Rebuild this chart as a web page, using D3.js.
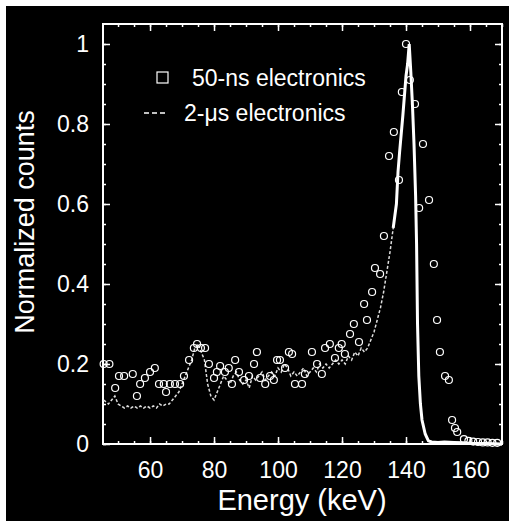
<!DOCTYPE html>
<html>
<head>
<meta charset="utf-8">
<script src="https://cdn.jsdelivr.net/npm/d3@7"></script>
<style>
  body { margin: 0; background: #fff; }
  text { font-family: "Liberation Sans", Arial, sans-serif; fill: #fff; }
</style>
</head>
<body>
<svg id="chart"></svg>
<script>
// 50-ns electronics (open markers)
const energy50 = [45.5, 47.3, 49.1, 50.3, 51.9, 54.6, 55.9, 56.9, 58.4, 60.0, 61.5, 62.8, 64.3, 65.0,
  66.2, 67.8, 69.4, 70.6, 72.2, 73.7, 74.7, 75.9, 77.2, 78.4, 80.0, 80.9, 81.9, 83.4, 84.6, 85.6,
  86.6, 87.8, 89.4, 90.9, 92.5, 93.4, 94.4, 96.0, 97.5, 98.7, 99.7, 100.6, 102.2, 103.4, 104.4,
  105.3, 107.5, 108.4, 110.6, 112.2, 113.7, 114.7, 116.2, 117.8, 119.0, 119.9, 120.9, 122.5, 123.7,
  125.3, 126.9, 127.8, 129.4, 130.3, 131.9, 133.1, 134.7, 136.2, 137.8, 138.7, 140.0, 141.2, 142.8,
  144.1, 145.3, 147.2, 148.7, 149.7, 150.6, 152.2, 153.4, 154.4, 155.3, 156.0, 158.1, 159.5, 161,
  162.5, 164, 165.5, 167, 168.5];
const counts50 = [0.2, 0.2, 0.14, 0.17, 0.17, 0.175, 0.12, 0.15, 0.165, 0.18, 0.19, 0.15, 0.15, 0.13,
  0.15, 0.15, 0.15, 0.17, 0.21, 0.24, 0.25, 0.24, 0.24, 0.2, 0.165, 0.18, 0.195, 0.18, 0.19, 0.15,
  0.21, 0.18, 0.16, 0.17, 0.2, 0.23, 0.165, 0.15, 0.17, 0.16, 0.21, 0.21, 0.19, 0.23, 0.225,
  0.15, 0.15, 0.175, 0.23, 0.2, 0.175, 0.24, 0.25, 0.215, 0.24, 0.25, 0.225, 0.275, 0.3,
  0.255, 0.35, 0.31, 0.38, 0.44, 0.425, 0.52, 0.72, 0.78, 0.66, 0.88, 1.0, 0.91, 0.85,
  0.59, 0.75, 0.61, 0.45, 0.31, 0.23, 0.17, 0.16, 0.06, 0.04, 0.03, 0.012, 0.008, 0.006,
  0.005, 0.004, 0.004, 0.003, 0.003];

// 2-us electronics (dashed line)
const energy2 = [45.5, 47, 48, 49, 50, 51, 52, 53, 54, 55, 56, 57, 58, 59, 60, 61, 62, 63, 64, 65,
  66, 67, 68, 69, 70, 71, 72, 73, 74, 75, 76, 77, 78, 79, 80, 81, 82, 83, 84, 85, 86, 87, 88, 89,
  90, 91, 92, 93, 94, 95, 96, 97, 98, 99, 100, 101, 102, 103, 104, 105, 106, 107, 108, 109, 110,
  111, 112, 113, 114, 115, 116, 117, 118, 119, 120, 121, 122, 123, 124, 125, 126, 127, 128, 129,
  130, 131, 132, 133, 134, 135, 136, 137, 137.5, 138, 139, 140, 140.5, 141, 141.5, 142, 142.5,
  143, 143.3, 143.6, 144, 144.5, 145, 146, 147, 148, 150, 152, 155, 158, 160, 165, 170];
const counts2 = [0.11, 0.1, 0.11, 0.12, 0.1, 0.095, 0.09, 0.095, 0.09, 0.095, 0.09, 0.095, 0.09, 0.095,
  0.09, 0.095, 0.09, 0.1, 0.095, 0.1, 0.1, 0.11, 0.12, 0.13, 0.15, 0.17, 0.19, 0.21, 0.24, 0.25,
  0.23, 0.21, 0.15, 0.12, 0.11, 0.13, 0.15, 0.17, 0.16, 0.15, 0.17, 0.18, 0.16, 0.15, 0.16, 0.14,
  0.17, 0.16, 0.17, 0.18, 0.16, 0.17, 0.18, 0.17, 0.19, 0.18, 0.2, 0.19, 0.17, 0.18, 0.17, 0.18,
  0.19, 0.17, 0.18, 0.19, 0.18, 0.2, 0.19, 0.2, 0.19, 0.2, 0.21, 0.2, 0.21, 0.2, 0.22, 0.21, 0.23,
  0.22, 0.24, 0.23, 0.24, 0.26, 0.28, 0.31, 0.34, 0.38, 0.43, 0.48, 0.54, 0.6, 0.68, 0.73, 0.82,
  0.92, 0.95, 1.0, 0.93, 0.85, 0.75, 0.62, 0.5, 0.3, 0.17, 0.1, 0.06, 0.025, 0.008, 0.005, 0.004,
  0.005, 0.004, 0.003, 0.002, 0.001, 0];

const xTicks = [60, 80, 100, 120, 140, 160];
const yTicks = [0, 0.2, 0.4, 0.6, 0.8, 1];
const seriesNames = ["50-ns electronics", "2-\u03bcs electronics"];

const W = 509, H = 521;
const plot = {left: 103, right: 502, top: 24, bottom: 444};

const svg = d3.select("#chart").attr("width", W).attr("height", H);

// black panel, white strip on left and top
svg.append("rect").attr("x", 6).attr("y", 6).attr("width", W - 6).attr("height", H - 6).attr("fill", "#000");

const x = d3.scaleLinear().domain([45.3, 170]).range([plot.left, plot.right]);
const y = d3.scaleLinear().domain([0, 1.05]).range([plot.bottom, plot.top]);

// minor ticks on all four sides
const minorX = d3.range(50, 171, 5), minorY = d3.range(0, 1.05, 0.05);
function styleAxis(g) {
  g.select(".domain").remove();
  g.selectAll("line").attr("stroke", "#fff").attr("stroke-width", 1.5);
  g.selectAll("text").attr("fill", "#fff").style("font-size", "23px")
    .style("font-family", '"Liberation Sans", Arial, sans-serif');
}
svg.append("g").attr("transform", `translate(0,${plot.bottom})`)
  .call(d3.axisBottom(x).tickValues(minorX).tickSize(-3).tickFormat("")).call(styleAxis);
svg.append("g").attr("transform", `translate(0,${plot.top})`)
  .call(d3.axisTop(x).tickValues(minorX).tickSize(-3).tickFormat("")).call(styleAxis);
svg.append("g").attr("transform", `translate(${plot.left},0)`)
  .call(d3.axisLeft(y).tickValues(minorY).tickSize(-3).tickFormat("")).call(styleAxis);
svg.append("g").attr("transform", `translate(${plot.right},0)`)
  .call(d3.axisRight(y).tickValues(minorY).tickSize(-3).tickFormat("")).call(styleAxis);

// major ticks with labels
svg.append("g").attr("transform", `translate(0,${plot.bottom})`)
  .call(d3.axisBottom(x).tickValues(xTicks).tickSize(-7).tickPadding(18)).call(styleAxis);
svg.append("g").attr("transform", `translate(0,${plot.top})`)
  .call(d3.axisTop(x).tickValues(xTicks).tickSize(-7).tickFormat("")).call(styleAxis);
svg.append("g").attr("transform", `translate(${plot.left},0)`)
  .call(d3.axisLeft(y).tickValues(yTicks).tickSize(-7).tickPadding(14).tickFormat(d => d)).call(styleAxis);
svg.append("g").attr("transform", `translate(${plot.right},0)`)
  .call(d3.axisRight(y).tickValues(yTicks).tickSize(-7).tickFormat("")).call(styleAxis);

// frame
svg.append("rect")
  .attr("x", plot.left).attr("y", plot.top)
  .attr("width", plot.right - plot.left).attr("height", plot.bottom - plot.top)
  .attr("fill", "none").attr("stroke", "#fff").attr("stroke-width", 2);

// 2-us line: dashed, the peak reads as a solid thick line
const pts2 = energy2.map((e, i) => [e, counts2[i]]);
const line = d3.line().x(d => x(d[0])).y(d => y(d[1]));
svg.append("path").datum(pts2.filter(d => d[0] <= 136))
  .attr("d", line).attr("fill", "none").attr("stroke", "#ddd")
  .attr("stroke-width", 1.5).attr("stroke-dasharray", "3,2");
svg.append("path").datum(pts2.filter(d => d[0] >= 136))
  .attr("d", line).attr("fill", "none").attr("stroke", "#fff")
  .attr("stroke-width", 3);

// 50-ns markers
svg.append("g").selectAll("circle")
  .data(energy50.map((e, i) => [e, counts50[i]]))
  .join("circle")
  .attr("cx", d => x(d[0])).attr("cy", d => y(d[1])).attr("r", 3.5)
  .attr("fill", "none").attr("stroke", "#fff").attr("stroke-width", 1.2);

// legend
svg.append("rect").attr("x", 157).attr("y", 72).attr("width", 11).attr("height", 11)
  .attr("fill", "none").attr("stroke", "#fff").attr("stroke-width", 1.2);
svg.append("text").attr("x", 192).attr("y", 86).style("font-size", "23px").text(seriesNames[0]);
svg.append("line").attr("x1", 144).attr("x2", 168).attr("y1", 113).attr("y2", 113)
  .attr("stroke", "#fff").attr("stroke-width", 1.5).attr("stroke-dasharray", "5,3");
svg.append("text").attr("x", 184).attr("y", 121).style("font-size", "23px").text(seriesNames[1]);

// axis titles
svg.append("text").attr("x", 302).attr("y", 510).attr("text-anchor", "middle")
  .style("font-size", "29px").text("Energy (keV)");
svg.append("text").attr("transform", "translate(34,222) rotate(-90)").attr("text-anchor", "middle")
  .style("font-size", "27px").text("Normalized counts");
</script>
</body>
</html>
